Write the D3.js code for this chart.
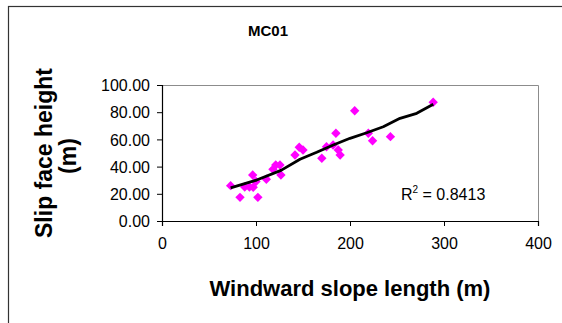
<!DOCTYPE html>
<html>
<head>
<meta charset="utf-8">
<script src="https://cdn.jsdelivr.net/npm/d3@7"></script>
<style>
  body { margin: 0; background: #fff; }
  svg { display: block; font-family: "Liberation Sans", Arial, sans-serif; }
</style>
</head>
<body>
<div id="chart"></div>
<script>
// windward slope length (m) vs slip face height (m)
var slopeLength = [73, 83, 88, 93, 96.5, 97, 102, 100, 111, 118, 121, 125.5, 126.5, 141.5, 146, 150, 170, 175, 182, 185, 187.5, 189.5, 205, 219.5, 224, 243, 288.5];
var faceHeight  = [26, 17.4, 25, 25, 33.8, 24.8, 17.4, 29, 30.7, 38, 41.2, 41.2, 33.8, 48.5, 54.2, 52.2, 46.1, 54.6, 55.9, 64.5, 52.2, 48.5, 81.1, 64.5, 59, 62, 87.3];

// trend line
var trendX = [73, 100.7, 126.6, 146.8, 164.6, 182.2, 200, 217.8, 235.4, 253.2, 271, 288.6];
var trendY = [24.3, 30.1, 37.2, 45.4, 50.5, 55.9, 60.8, 64.9, 69.3, 75.5, 79.2, 85.8];

var xTicks = [0, 100, 200, 300, 400];
var yTicks = [0, 20, 40, 60, 80, 100];
var rSquared = "0.8413";

var width = 562, height = 323;
var plot = { left: 162, right: 538, top: 85, bottom: 221 };

var svg = d3.select("#chart").append("svg")
  .attr("width", width)
  .attr("height", height);

// outer chart border
svg.append("rect")
  .attr("x", 8.5).attr("y", 6.5)
  .attr("width", 700).attr("height", 500)
  .attr("fill", "none")
  .attr("stroke", "#333")
  .attr("stroke-width", 1.2);

var x = d3.scaleLinear().domain([0, 400]).range([plot.left, plot.right]);
var y = d3.scaleLinear().domain([0, 100]).range([plot.bottom, plot.top]);

// gray top/right frame of plot area
svg.append("path")
  .attr("d", "M" + x(0) + "," + (y(100) + 0.5) + "H" + (x(400) + 0.5) + "V" + y(0))
  .attr("fill", "none")
  .attr("stroke", "#8c8c8c")
  .attr("stroke-width", 1);

// axes
var xAxis = svg.append("g")
  .attr("transform", "translate(0," + y(0) + ")")
  .call(d3.axisBottom(x).tickValues(xTicks).tickSize(5).tickPadding(12).tickFormat(d3.format("d")));
var yAxis = svg.append("g")
  .attr("transform", "translate(" + x(0) + ",0)")
  .call(d3.axisLeft(y).tickValues(yTicks).tickSize(5).tickPadding(7).tickFormat(d3.format(".2f")));

[xAxis, yAxis].forEach(function (g) {
  g.select(".domain").attr("stroke", "#000").attr("stroke-width", 1.2);
  g.selectAll(".tick line").attr("stroke", "#000");
  g.selectAll(".tick text")
    .attr("fill", "#000")
    .attr("font-size", "16px")
    .attr("font-family", "'Liberation Sans', Arial, sans-serif");
});
yAxis.selectAll(".tick text").attr("dy", "0.36em");

// trend line
var line = d3.line()
  .x(function (d, i) { return x(trendX[i]); })
  .y(function (d, i) { return y(trendY[i]); });

// markers
svg.append("g")
  .selectAll("path")
  .data(slopeLength)
  .join("path")
    .attr("d", d3.symbol().type(d3.symbolDiamond2).size(56))
    .attr("transform", function (d, i) {
      return "translate(" + x(d) + "," + y(faceHeight[i]) + ")";
    })
    .attr("fill", "#ff00ff");

svg.append("path")
  .datum(trendX)
  .attr("d", line)
  .attr("fill", "none")
  .attr("stroke", "#000")
  .attr("stroke-width", 2.8)
  .attr("stroke-linejoin", "round");

// R squared label
var r2 = svg.append("text")
  .attr("x", 401)
  .attr("y", 200)
  .attr("font-size", "16px")
  .attr("fill", "#000");
r2.append("tspan").text("R");
r2.append("tspan").attr("font-size", "10px").attr("dy", "-7").text("2");
r2.append("tspan").attr("dy", "7").text(" = " + rSquared);

// title
svg.append("text")
  .attr("x", 268)
  .attr("y", 36)
  .attr("text-anchor", "middle")
  .attr("font-size", "15px")
  .attr("font-weight", "bold")
  .text("MC01");

// axis titles
svg.append("text")
  .attr("x", 350)
  .attr("y", 296)
  .attr("text-anchor", "middle")
  .attr("font-size", "22px")
  .attr("font-weight", "bold")
  .text("Windward slope length (m)");

svg.append("text")
  .attr("transform", "translate(52,153) rotate(-90)")
  .attr("text-anchor", "middle")
  .attr("font-size", "23px")
  .attr("font-weight", "bold")
  .text("Slip face height");

svg.append("text")
  .attr("transform", "translate(76,156) rotate(-90)")
  .attr("text-anchor", "middle")
  .attr("font-size", "23px")
  .attr("font-weight", "bold")
  .text("(m)");
</script>
</body>
</html>
